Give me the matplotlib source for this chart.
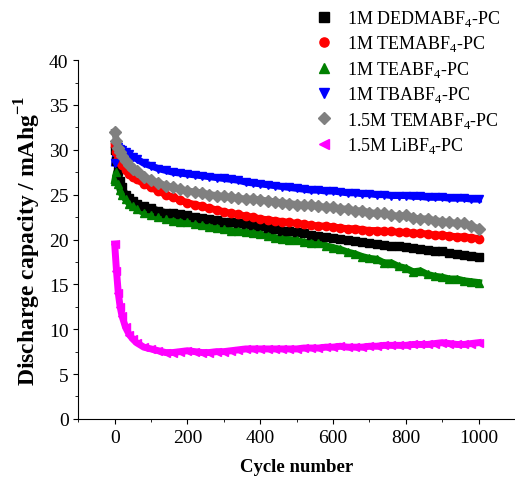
import matplotlib.pyplot as plt

plt.rcParams['font.family'] = ['Liberation Serif', 'DejaVu Serif']
plt.rcParams['mathtext.fontset'] = 'custom'
plt.rcParams['mathtext.rm'] = 'Liberation Serif'
plt.rcParams['mathtext.bf'] = 'Liberation Serif:bold'

cycles = [0, 5, 10, 15, 20, 30, 40, 50, 60, 80, 100, 120, 140, 160, 180, 200,
          220, 240, 260, 280, 300, 320, 340, 360, 380, 400, 420, 440, 460, 480,
          500, 520, 540, 560, 580, 600, 620, 640, 660, 680, 700, 720, 740, 760,
          780, 800, 820, 840, 860, 880, 900, 920, 940, 960, 980, 1000]

dedma = [30.0, 28.8, 27.6, 26.5, 25.8, 25.0, 24.6, 24.3, 24.0, 23.7, 23.5, 23.2,
         23.0, 22.9, 22.8, 22.7, 22.5, 22.4, 22.3, 22.2, 22.0, 21.9, 21.8, 21.7,
         21.6, 21.5, 21.3, 21.2, 21.0, 20.9, 20.8, 20.7, 20.5, 20.4, 20.3, 20.2,
         20.1, 19.9, 19.8, 19.7, 19.6, 19.5, 19.4, 19.3, 19.3, 19.2, 19.0, 18.9,
         18.8, 18.7, 18.7, 18.5, 18.4, 18.3, 18.2, 18.1]
tema = [30.5, 29.8, 29.0, 28.6, 28.3, 27.8, 27.3, 27.0, 26.7, 26.2, 25.8, 25.4,
        25.0, 24.7, 24.4, 24.1, 23.9, 23.7, 23.5, 23.3, 23.1, 22.9, 22.8, 22.6,
        22.5, 22.3, 22.2, 22.1, 22.0, 21.9, 21.8, 21.7, 21.6, 21.5, 21.5, 21.4,
        21.3, 21.2, 21.2, 21.1, 21.0, 21.0, 20.9, 20.9, 20.8, 20.8, 20.7, 20.7,
        20.6, 20.5, 20.5, 20.4, 20.3, 20.3, 20.2, 20.1]
tea = [26.5, 27.5, 26.2, 25.5, 25.0, 24.5, 24.0, 23.7, 23.4, 23.0, 22.7, 22.5,
       22.3, 22.1, 22.0, 21.9, 21.7, 21.6, 21.4, 21.3, 21.2, 21.0, 20.9, 20.8,
       20.7, 20.6, 20.4, 20.2, 20.1, 20.0, 19.9, 19.7, 19.6, 19.6, 19.3, 19.1,
       18.9, 18.6, 18.4, 18.1, 17.9, 17.8, 17.4, 17.4, 17.0, 16.8, 16.4, 16.5,
       16.1, 15.9, 15.8, 15.6, 15.6, 15.4, 15.3, 15.2]
tba = [28.5, 30.5, 30.3, 30.1, 30.0, 29.7, 29.5, 29.2, 29.0, 28.5, 28.2, 27.9,
       27.7, 27.5, 27.4, 27.3, 27.2, 27.1, 27.0, 26.9, 26.8, 26.7, 26.6, 26.4,
       26.3, 26.2, 26.1, 26.0, 25.9, 25.8, 25.7, 25.6, 25.5, 25.5, 25.4, 25.4,
       25.3, 25.2, 25.2, 25.1, 25.1, 25.0, 25.0, 24.9, 24.9, 24.9, 24.8, 24.8,
       24.7, 24.7, 24.7, 24.6, 24.6, 24.6, 24.5, 24.5]
tema15 = [32.0, 31.0, 30.2, 29.7, 29.3, 28.8, 28.3, 27.9, 27.6, 27.0, 26.6, 26.3,
          26.0, 25.8, 25.6, 25.4, 25.3, 25.2, 25.0, 24.9, 24.8, 24.7, 24.6, 24.5,
          24.5, 24.4, 24.3, 24.2, 24.1, 24.0, 23.9, 23.8, 23.8, 23.7, 23.6, 23.6,
          23.4, 23.4, 23.2, 23.2, 23.0, 22.9, 22.9, 22.7, 22.6, 22.7, 22.4, 22.3,
          22.3, 22.1, 22.0, 21.9, 21.8, 21.8, 21.5, 21.2]
libf4 = [19.5, 16.5, 14.0, 12.5, 11.5, 10.2, 9.4, 8.9, 8.5, 8.0, 7.8, 7.6,
         7.4, 7.4, 7.5, 7.6, 7.5, 7.4, 7.4, 7.5, 7.5, 7.6, 7.7, 7.8,
         7.8, 7.8, 7.8, 7.8, 7.8, 7.8, 7.8, 7.9, 7.9, 7.9, 8.0, 8.0,
         8.1, 8.0, 8.0, 8.0, 8.1, 8.1, 8.2, 8.2, 8.2, 8.2, 8.3, 8.3,
         8.3, 8.4, 8.5, 8.4, 8.3, 8.3, 8.4, 8.5]

series = [
    (dedma, 'k', 's', r'1M DEDMABF$_4$-PC'),
    (tema, 'r', 'o', r'1M TEMABF$_4$-PC'),
    (tea, 'g', '^', r'1M TEABF$_4$-PC'),
    (tba, 'b', 'v', r'1M TBABF$_4$-PC'),
    (tema15, 'gray', 'D', r'1.5M TEMABF$_4$-PC'),
    (libf4, 'magenta', '<', r'1.5M LiBF$_4$-PC'),
]

fig = plt.figure(figsize=(5.15, 4.81), dpi=100)
ax = fig.add_axes([0.152, 0.127, 0.848, 0.746])

for y, c, m, lab in series:
    ax.plot(cycles, y, color=c, lw=5, zorder=2)
    ax.plot(cycles, y, color=c, marker=m, ms=6, ls='none', label=lab, zorder=3)

ax.set_xlim(-100, 1100)
ax.set_ylim(0, 40)
ax.set_xticks([0, 200, 400, 600, 800, 1000])
ax.set_xticks(range(-100, 1101, 100), minor=True)
ax.set_yticks(range(0, 41, 5))
ax.set_yticks([i * 2.5 for i in range(17)], minor=True)
ax.spines['top'].set_visible(False)
ax.spines['right'].set_visible(False)
ax.tick_params(labelsize=14, direction='out')
ax.set_xlabel('Cycle number', fontsize=13.5, fontweight='bold', labelpad=9)
ax.set_ylabel(r'Discharge capacity / mAhg$^{\mathbf{-1}}$', fontsize=17,
              fontweight='bold', labelpad=4)

leg = fig.legend(loc='upper left', bbox_to_anchor=(0.58, 1.015), frameon=False,
                 fontsize=13, handlelength=1.0, handletextpad=0.8,
                 labelspacing=0.3, markerscale=1.1)

plt.savefig('out.png', dpi=100)
